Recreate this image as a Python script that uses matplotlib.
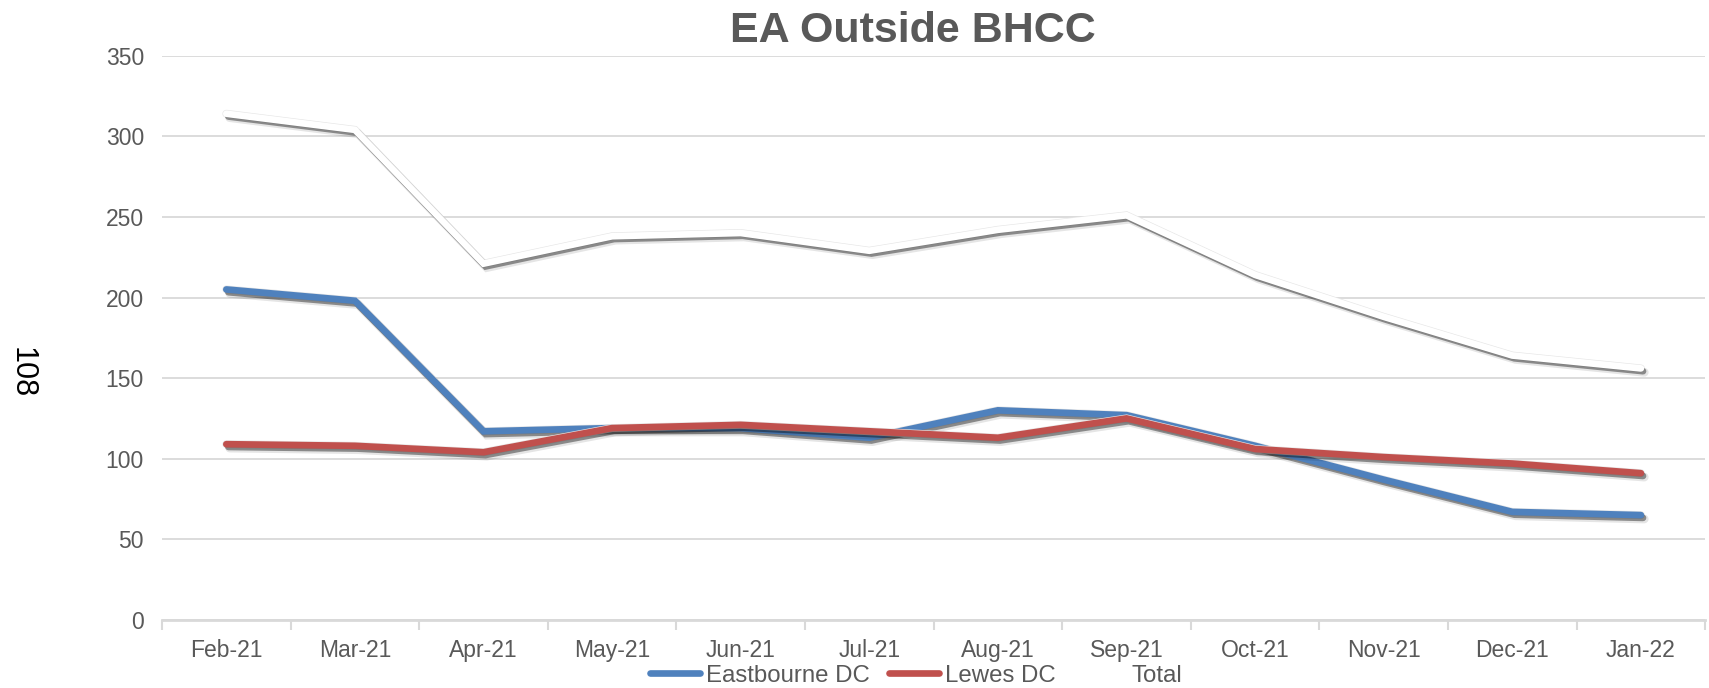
import numpy as np
import matplotlib
matplotlib.use("Agg")
import matplotlib.pyplot as plt
import matplotlib.patheffects as pe

plt.rcParams['font.family'] = ['Liberation Sans', 'DejaVu Sans']

months = ["Feb-21", "Mar-21", "Apr-21", "May-21", "Jun-21", "Jul-21",
          "Aug-21", "Sep-21", "Oct-21", "Nov-21", "Dec-21", "Jan-22"]
eastbourne = [205, 198, 117, 119, 119, 113, 130, 127, 108, 87, 67, 65]
lewes = [109, 108, 104, 119, 121, 117, 113, 125, 106, 101, 97, 91]
total = [314, 304, 221, 238, 240, 229, 242, 251, 214, 188, 164, 156]
yticks = [0, 50, 100, 150, 200, 250, 300, 350]

TXT = '#595959'
GRID = '#d9d9d9'

fig = plt.figure(figsize=(17.09, 6.88), dpi=100)
ax = fig.add_axes([0.0948, 0.099, 0.9030, 0.820])

x = np.arange(len(months))
LW = 4.8
shadow = [pe.Stroke(linewidth=LW + 0.9, foreground='#e6e6e6'),
          pe.SimpleLineShadow(offset=(2.4, -2.8), shadow_color='black', alpha=0.10, linewidth=LW + 1.5),
          pe.SimpleLineShadow(offset=(1.5, -2.0), shadow_color='black', alpha=0.40),
          pe.Normal()]

series = [("Eastbourne DC", eastbourne, '#4F81BD'),
          ("Lewes DC", lewes, '#C0504D'),
          ("Total", total, '#FFFFFF')]
for name, vals, col in series:
    ax.plot(x, vals, color=col, lw=LW, label=name, solid_capstyle='round',
            solid_joinstyle='miter', path_effects=shadow, zorder=3)

ax.set_xlim(-0.5, len(months) - 0.5)
ax.set_ylim(0, 350)
ax.set_yticks(yticks)
ax.set_yticklabels([str(v) for v in yticks])
ax.set_xticks(x)
ax.set_xticklabels(months)
ax.set_xticks(np.arange(-0.5, len(months)), minor=True)
ax.tick_params(axis='x', which='major', length=0, pad=14, labelsize=16.5, labelcolor=TXT)
ax.tick_params(axis='x', which='minor', length=7, width=1.5, color=GRID)
ax.tick_params(axis='y', length=0, pad=13, labelsize=16.5, labelcolor=TXT)

ax.grid(axis='y', color=GRID, lw=1.3, zorder=0)
ax.set_axisbelow(True)
for s in ['top', 'right', 'left']:
    ax.spines[s].set_visible(False)
ax.spines['bottom'].set_color(GRID)
ax.spines['bottom'].set_linewidth(2)

fig.text(0.534, 0.955, "EA Outside BHCC", ha='center', va='center',
         fontsize=31, fontweight='bold', color=TXT)
fig.text(0.0125, 0.458, "108", rotation=270, ha='center', va='center',
         fontsize=22, color='black')

handles, labels = ax.get_legend_handles_labels()
leg = fig.legend(handles, labels, loc='center', bbox_to_anchor=(0.536, 0.018),
                 ncol=3, frameon=False, fontsize=17.3, handlelength=2.1,
                 handletextpad=0.25, columnspacing=0.8, borderpad=0,
                 bbox_transform=fig.transFigure)
for t in leg.get_texts():
    t.set_color(TXT)
for h in leg.legend_handles:
    h.set_path_effects([])
    h.set_linewidth(LW)
    h.set_solid_capstyle('round')

fig.savefig("out.png", dpi=100)
